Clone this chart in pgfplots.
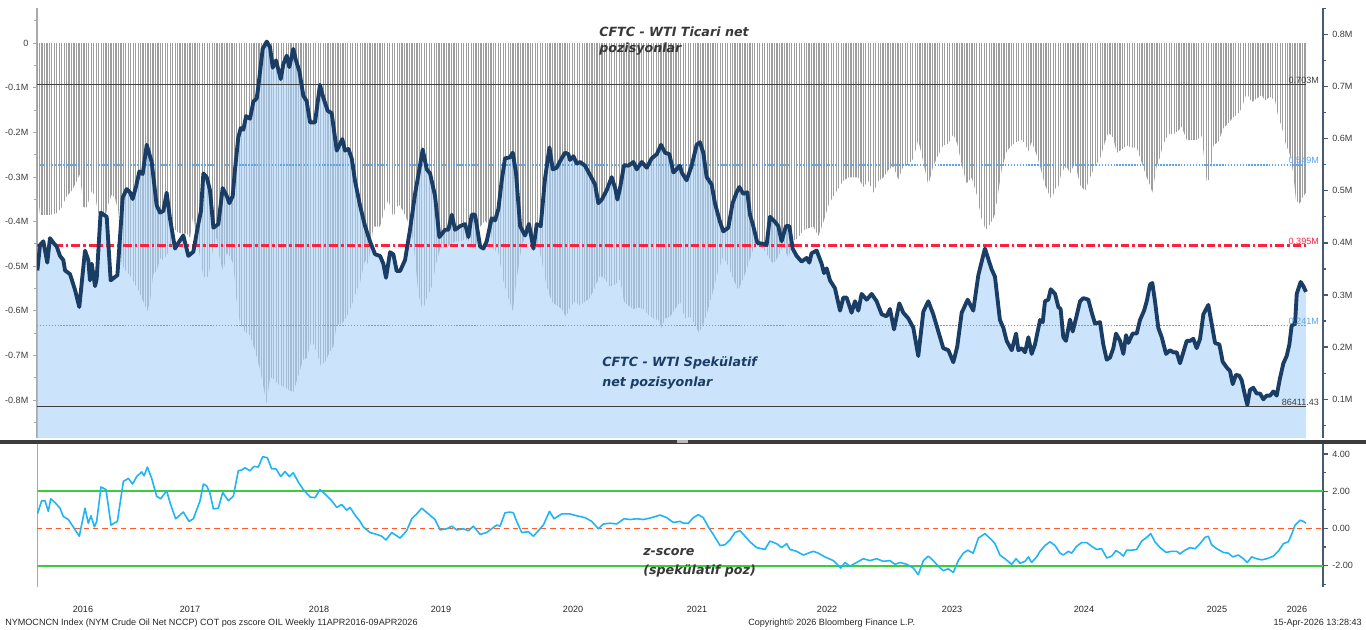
\documentclass[border=0pt]{standalone}
\usepackage{fontspec}
\setmainfont{Liberation Sans}
\newfontfamily\dvs{DejaVu Sans}[BoldItalicFont={DejaVu Sans Bold Oblique}]
\usepackage{pgfplots}
\usepackage{pgfplotstable}
\pgfplotsset{compat=1.18}
\usetikzlibrary{patterns.meta}
\definecolor{fillblue}{RGB}{170,210,248}
\definecolor{bargray}{RGB}{158,158,158}
\definecolor{specline}{RGB}{26,61,102}
\definecolor{zline}{RGB}{32,180,245}
\definecolor{zred}{RGB}{255,90,40}
\definecolor{redline}{RGB}{255,32,64}
\definecolor{dotblue}{RGB}{90,165,240}
\definecolor{linegray}{RGB}{64,64,64}
\definecolor{axgray}{RGB}{170,170,170}
\definecolor{raxis}{RGB}{70,90,115}
\definecolor{lbl}{RGB}{60,60,60}
\definecolor{sepgray}{RGB}{60,60,60}

\pgfplotstableread{
x y
2016.279 -0.331
2016.300 -0.385
2016.339 -0.385
2016.378 -0.385
2016.431 -0.381
2016.470 -0.368
2016.510 -0.343
2016.549 -0.331
2016.588 -0.309
2016.615 -0.293
2016.641 -0.368
2016.667 -0.368
2016.707 -0.331
2016.733 -0.343
2016.759 -0.381
2016.785 -0.385
2016.812 -0.390
2016.838 -0.360
2016.864 -0.339
2016.890 -0.347
2016.917 -0.377
2016.943 -0.495
2016.969 -0.508
2017.008 -0.520
2017.048 -0.541
2017.082 -0.558
2017.113 -0.579
2017.145 -0.600
2017.166 -0.579
2017.192 -0.516
2017.218 -0.512
2017.245 -0.482
2017.271 -0.487
2017.297 -0.474
2017.323 -0.465
2017.350 -0.411
2017.376 -0.423
2017.415 -0.427
2017.455 -0.427
2017.481 -0.436
2017.507 -0.383
2017.533 -0.444
2017.560 -0.478
2017.586 -0.524
2017.625 -0.524
2017.665 -0.457
2017.691 -0.436
2017.717 -0.487
2017.743 -0.512
2017.770 -0.470
2017.796 -0.478
2017.822 -0.495
2017.848 -0.579
2017.875 -0.630
2017.914 -0.647
2017.953 -0.655
2017.993 -0.689
2018.032 -0.731
2018.058 -0.769
2018.085 -0.807
2018.111 -0.748
2018.137 -0.752
2018.176 -0.765
2018.216 -0.769
2018.255 -0.777
2018.294 -0.782
2018.334 -0.748
2018.368 -0.710
2018.399 -0.706
2018.439 -0.664
2018.478 -0.693
2018.510 -0.723
2018.544 -0.714
2018.583 -0.693
2018.609 -0.680
2018.636 -0.630
2018.675 -0.630
2018.714 -0.613
2018.754 -0.588
2018.793 -0.554
2018.819 -0.537
2018.859 -0.487
2018.885 -0.495
2018.925 -0.411
2018.977 -0.411
2019.017 -0.368
2019.043 -0.352
2019.082 -0.390
2019.122 -0.360
2019.161 -0.377
2019.200 -0.402
2019.240 -0.444
2019.279 -0.562
2019.313 -0.600
2019.345 -0.571
2019.384 -0.546
2019.418 -0.495
2019.450 -0.461
2019.489 -0.457
2019.528 -0.453
2019.568 -0.444
2019.607 -0.444
2019.647 -0.440
2019.686 -0.444
2019.725 -0.465
2019.765 -0.411
2019.804 -0.398
2019.843 -0.411
2019.870 -0.461
2019.909 -0.470
2019.948 -0.533
2019.988 -0.571
2020.022 -0.600
2020.053 -0.529
2020.093 -0.453
2020.132 -0.427
2020.171 -0.427
2020.211 -0.444
2020.250 -0.487
2020.290 -0.546
2020.329 -0.579
2020.368 -0.588
2020.408 -0.596
2020.442 -0.613
2020.473 -0.592
2020.513 -0.579
2020.552 -0.588
2020.591 -0.579
2020.631 -0.571
2020.670 -0.546
2020.710 -0.520
2020.749 -0.529
2020.788 -0.546
2020.828 -0.541
2020.867 -0.529
2020.898 -0.579
2020.933 -0.588
2020.972 -0.596
2021.011 -0.592
2021.051 -0.596
2021.090 -0.609
2021.129 -0.617
2021.169 -0.621
2021.195 -0.638
2021.221 -0.617
2021.261 -0.613
2021.300 -0.596
2021.339 -0.579
2021.378 -0.617
2021.417 -0.613
2021.457 -0.630
2021.491 -0.651
2021.522 -0.630
2021.562 -0.596
2021.601 -0.554
2021.641 -0.508
2021.680 -0.478
2021.719 -0.499
2021.759 -0.529
2021.798 -0.554
2021.837 -0.529
2021.877 -0.495
2021.916 -0.461
2021.956 -0.453
2021.995 -0.461
2022.034 -0.478
2022.074 -0.495
2022.113 -0.478
2022.152 -0.453
2022.192 -0.482
2022.231 -0.444
2022.270 -0.436
2022.310 -0.419
2022.349 -0.415
2022.389 -0.411
2022.428 -0.432
2022.467 -0.402
2022.507 -0.364
2022.546 -0.343
2022.585 -0.326
2022.625 -0.308
2022.664 -0.301
2022.704 -0.301
2022.743 -0.301
2022.782 -0.322
2022.822 -0.309
2022.861 -0.335
2022.900 -0.309
2022.940 -0.301
2022.979 -0.284
2023.019 -0.276
2023.058 -0.305
2023.097 -0.276
2023.137 -0.272
2023.176 -0.259
2023.215 -0.217
2023.255 -0.267
2023.294 -0.318
2023.333 -0.276
2023.373 -0.250
2023.412 -0.229
2023.452 -0.225
2023.491 -0.204
2023.522 -0.225
2023.557 -0.272
2023.596 -0.314
2023.635 -0.301
2023.675 -0.339
2023.714 -0.394
2023.748 -0.419
2023.780 -0.406
2023.819 -0.385
2023.858 -0.309
2023.872 -0.284
2023.911 -0.242
2023.951 -0.229
2023.990 -0.221
2024.029 -0.217
2024.056 -0.225
2024.082 -0.242
2024.108 -0.221
2024.147 -0.250
2024.174 -0.276
2024.213 -0.318
2024.239 -0.335
2024.266 -0.352
2024.292 -0.326
2024.318 -0.322
2024.344 -0.288
2024.384 -0.276
2024.410 -0.293
2024.449 -0.267
2024.489 -0.318
2024.528 -0.331
2024.567 -0.301
2024.607 -0.276
2024.646 -0.259
2024.686 -0.221
2024.712 -0.200
2024.751 -0.212
2024.777 -0.246
2024.817 -0.238
2024.856 -0.229
2024.896 -0.234
2024.935 -0.234
2024.974 -0.267
2025.014 -0.301
2025.040 -0.318
2025.058 -0.335
2025.092 -0.276
2025.119 -0.255
2025.145 -0.225
2025.184 -0.204
2025.224 -0.204
2025.263 -0.196
2025.289 -0.187
2025.329 -0.217
2025.368 -0.217
2025.407 -0.217
2025.447 -0.208
2025.486 -0.309
2025.512 -0.305
2025.539 -0.229
2025.578 -0.221
2025.617 -0.191
2025.657 -0.179
2025.696 -0.166
2025.735 -0.158
2025.762 -0.145
2025.801 -0.111
2025.840 -0.132
2025.880 -0.124
2025.919 -0.116
2025.945 -0.128
2025.985 -0.120
2026.024 -0.128
2026.050 -0.166
2026.077 -0.187
2026.103 -0.221
2026.142 -0.250
2026.168 -0.293
2026.189 -0.352
2026.221 -0.360
2026.247 -0.343
2026.268 -0.335
}\comdata

\pgfplotstableread{
x y
2016.279 0.347
2016.300 0.396
2016.326 0.403
2016.357 0.362
2016.378 0.409
2016.405 0.400
2016.431 0.393
2016.457 0.375
2016.483 0.367
2016.497 0.347
2016.536 0.340
2016.575 0.310
2016.609 0.277
2016.654 0.385
2016.680 0.367
2016.693 0.328
2016.707 0.360
2016.733 0.317
2016.746 0.331
2016.777 0.458
2016.825 0.450
2016.856 0.328
2016.909 0.338
2016.951 0.487
2016.982 0.503
2017.008 0.497
2017.029 0.484
2017.056 0.508
2017.082 0.537
2017.108 0.532
2017.140 0.588
2017.179 0.555
2017.218 0.472
2017.245 0.458
2017.271 0.461
2017.297 0.496
2017.323 0.447
2017.363 0.389
2017.389 0.400
2017.428 0.414
2017.468 0.375
2017.507 0.383
2017.546 0.436
2017.567 0.461
2017.586 0.533
2017.612 0.526
2017.638 0.501
2017.665 0.429
2017.704 0.436
2017.738 0.505
2017.770 0.490
2017.791 0.476
2017.817 0.490
2017.835 0.541
2017.861 0.602
2017.880 0.620
2017.901 0.617
2017.922 0.643
2017.953 0.638
2017.980 0.671
2018.006 0.677
2018.019 0.700
2018.053 0.772
2018.085 0.786
2018.111 0.775
2018.132 0.736
2018.158 0.750
2018.195 0.714
2018.216 0.743
2018.242 0.759
2018.263 0.737
2018.294 0.772
2018.315 0.750
2018.342 0.729
2018.373 0.682
2018.399 0.672
2018.426 0.631
2018.465 0.631
2018.504 0.703
2018.531 0.678
2018.565 0.653
2018.596 0.649
2018.636 0.577
2018.680 0.599
2018.701 0.577
2018.728 0.580
2018.754 0.562
2018.780 0.519
2018.819 0.472
2018.859 0.432
2018.898 0.403
2018.938 0.378
2018.977 0.375
2019.003 0.360
2019.024 0.333
2019.056 0.382
2019.082 0.378
2019.108 0.346
2019.135 0.346
2019.174 0.367
2019.213 0.425
2019.253 0.494
2019.279 0.530
2019.313 0.579
2019.345 0.541
2019.371 0.533
2019.410 0.490
2019.444 0.411
2019.489 0.425
2019.515 0.425
2019.542 0.454
2019.568 0.425
2019.607 0.432
2019.647 0.436
2019.673 0.411
2019.699 0.454
2019.725 0.454
2019.765 0.393
2019.791 0.389
2019.817 0.403
2019.856 0.447
2019.883 0.443
2019.909 0.465
2019.935 0.519
2019.961 0.562
2020.001 0.564
2020.022 0.573
2020.048 0.533
2020.080 0.432
2020.119 0.414
2020.150 0.436
2020.185 0.389
2020.211 0.436
2020.242 0.432
2020.276 0.523
2020.311 0.583
2020.337 0.541
2020.368 0.544
2020.400 0.559
2020.434 0.573
2020.460 0.570
2020.473 0.559
2020.500 0.566
2020.526 0.552
2020.552 0.555
2020.591 0.548
2020.631 0.530
2020.670 0.512
2020.696 0.476
2020.723 0.483
2020.762 0.501
2020.801 0.526
2020.828 0.505
2020.846 0.483
2020.867 0.505
2020.898 0.549
2020.933 0.548
2020.972 0.555
2020.998 0.541
2021.038 0.555
2021.077 0.544
2021.116 0.562
2021.156 0.570
2021.190 0.588
2021.221 0.573
2021.255 0.570
2021.287 0.535
2021.339 0.548
2021.352 0.535
2021.391 0.520
2021.431 0.548
2021.470 0.588
2021.496 0.593
2021.522 0.573
2021.549 0.526
2021.588 0.512
2021.614 0.476
2021.654 0.440
2021.680 0.422
2021.719 0.429
2021.753 0.476
2021.785 0.497
2021.806 0.507
2021.837 0.494
2021.869 0.497
2021.890 0.454
2021.916 0.432
2021.948 0.400
2021.995 0.398
2022.021 0.396
2022.047 0.450
2022.087 0.440
2022.113 0.432
2022.139 0.403
2022.173 0.432
2022.200 0.432
2022.226 0.389
2022.257 0.375
2022.297 0.364
2022.336 0.371
2022.357 0.362
2022.375 0.380
2022.415 0.385
2022.454 0.360
2022.473 0.342
2022.494 0.351
2022.520 0.328
2022.559 0.313
2022.599 0.270
2022.625 0.295
2022.651 0.295
2022.690 0.266
2022.717 0.288
2022.743 0.270
2022.769 0.302
2022.809 0.291
2022.848 0.302
2022.887 0.288
2022.927 0.263
2022.966 0.259
2022.992 0.273
2023.024 0.234
2023.066 0.284
2023.097 0.266
2023.137 0.255
2023.176 0.237
2023.215 0.183
2023.255 0.268
2023.294 0.288
2023.333 0.263
2023.373 0.230
2023.412 0.198
2023.452 0.194
2023.491 0.171
2023.522 0.201
2023.557 0.266
2023.604 0.291
2023.648 0.270
2023.688 0.338
2023.740 0.389
2023.793 0.349
2023.819 0.335
2023.858 0.252
2023.885 0.237
2023.911 0.212
2023.951 0.194
2023.985 0.226
2024.003 0.194
2024.029 0.198
2024.056 0.190
2024.082 0.219
2024.108 0.187
2024.134 0.205
2024.174 0.252
2024.195 0.248
2024.213 0.288
2024.239 0.291
2024.258 0.311
2024.292 0.302
2024.318 0.277
2024.336 0.273
2024.357 0.219
2024.378 0.212
2024.410 0.253
2024.431 0.230
2024.457 0.255
2024.489 0.288
2024.515 0.294
2024.554 0.291
2024.581 0.266
2024.607 0.245
2024.646 0.248
2024.672 0.205
2024.699 0.176
2024.725 0.180
2024.751 0.198
2024.772 0.226
2024.804 0.212
2024.830 0.187
2024.851 0.223
2024.869 0.208
2024.903 0.226
2024.935 0.226
2024.961 0.252
2024.993 0.270
2025.014 0.288
2025.040 0.320
2025.058 0.323
2025.079 0.288
2025.105 0.237
2025.132 0.219
2025.166 0.187
2025.197 0.194
2025.224 0.190
2025.250 0.190
2025.276 0.169
2025.302 0.190
2025.329 0.212
2025.355 0.212
2025.381 0.216
2025.407 0.198
2025.434 0.216
2025.460 0.263
2025.499 0.281
2025.525 0.245
2025.552 0.208
2025.586 0.205
2025.612 0.172
2025.644 0.161
2025.670 0.154
2025.691 0.129
2025.717 0.147
2025.743 0.145
2025.762 0.136
2025.788 0.107
2025.806 0.089
2025.827 0.118
2025.853 0.122
2025.880 0.111
2025.906 0.111
2025.932 0.100
2025.958 0.107
2025.985 0.107
2026.011 0.115
2026.037 0.107
2026.063 0.140
2026.090 0.169
2026.116 0.183
2026.137 0.205
2026.155 0.241
2026.182 0.245
2026.195 0.302
2026.226 0.325
2026.247 0.317
2026.268 0.306
}\specdata

\pgfplotstableread{
x y
2016.279 0.78
2016.313 1.49
2016.339 1.49
2016.365 0.92
2016.384 1.59
2016.418 1.39
2016.457 1.09
2016.483 0.64
2016.523 0.48
2016.562 0.08
2016.609 -0.42
2016.654 1.09
2016.680 0.28
2016.701 0.68
2016.728 0.08
2016.746 0.38
2016.780 2.23
2016.819 2.09
2016.859 0.18
2016.909 0.38
2016.956 2.53
2016.995 2.69
2017.029 2.39
2017.061 2.79
2017.100 3.04
2017.119 2.83
2017.145 3.30
2017.179 2.69
2017.218 1.73
2017.250 1.59
2017.297 2.03
2017.323 1.39
2017.368 0.52
2017.428 0.88
2017.473 0.38
2017.507 0.52
2017.560 1.49
2017.586 2.39
2017.612 2.29
2017.638 1.89
2017.665 1.05
2017.704 1.09
2017.738 1.93
2017.783 1.49
2017.822 1.73
2017.861 3.10
2017.888 3.14
2017.914 3.26
2017.953 3.10
2017.985 3.34
2018.019 3.30
2018.053 3.86
2018.090 3.80
2018.124 3.20
2018.158 3.20
2018.195 2.79
2018.229 3.06
2018.263 2.79
2018.294 2.99
2018.334 2.49
2018.373 2.09
2018.426 1.69
2018.465 1.65
2018.504 2.09
2018.544 1.85
2018.596 1.49
2018.636 1.13
2018.675 1.29
2018.714 0.98
2018.741 1.13
2018.780 0.72
2018.819 0.38
2018.846 0.08
2018.898 -0.22
2018.951 -0.32
2018.990 -0.42
2019.024 -0.62
2019.069 -0.22
2019.135 -0.52
2019.187 -0.12
2019.227 0.52
2019.266 0.78
2019.305 1.09
2019.358 0.78
2019.410 0.48
2019.450 -0.08
2019.502 -0.02
2019.542 0.12
2019.581 -0.08
2019.633 -0.02
2019.673 -0.12
2019.712 0.12
2019.765 -0.32
2019.817 -0.22
2019.856 -0.02
2019.896 0.18
2019.922 0.12
2019.961 0.84
2020.001 0.88
2020.027 0.84
2020.053 0.38
2020.093 -0.22
2020.145 -0.18
2020.185 -0.42
2020.224 -0.12
2020.263 0.18
2020.311 0.92
2020.347 0.52
2020.408 0.78
2020.473 0.78
2020.526 0.68
2020.591 0.58
2020.644 0.38
2020.696 -0.02
2020.736 0.24
2020.788 0.28
2020.841 0.24
2020.898 0.52
2020.946 0.48
2020.998 0.52
2021.051 0.48
2021.116 0.58
2021.182 0.72
2021.234 0.58
2021.287 0.32
2021.339 0.38
2021.365 0.28
2021.404 0.28
2021.444 0.58
2021.483 0.74
2021.522 0.58
2021.562 0.08
2021.601 -0.32
2021.654 -0.92
2021.693 -0.88
2021.732 -0.62
2021.772 -0.22
2021.811 -0.12
2021.851 -0.42
2021.890 -0.72
2021.942 -1.03
2022.008 -1.13
2022.047 -0.68
2022.100 -0.82
2022.139 -1.03
2022.179 -0.82
2022.205 -1.13
2022.257 -1.23
2022.310 -1.43
2022.349 -1.33
2022.389 -1.23
2022.428 -1.33
2022.480 -1.53
2022.546 -1.73
2022.604 -2.13
2022.638 -1.83
2022.677 -2.03
2022.730 -1.83
2022.782 -1.63
2022.835 -1.73
2022.887 -1.63
2022.940 -1.77
2022.992 -1.73
2023.032 -1.93
2023.071 -1.83
2023.124 -1.93
2023.176 -2.13
2023.215 -2.49
2023.255 -1.73
2023.294 -1.49
2023.333 -1.73
2023.373 -2.03
2023.412 -2.27
2023.452 -2.17
2023.491 -2.37
2023.530 -1.73
2023.570 -1.33
2023.604 -1.17
2023.648 -1.33
2023.688 -0.52
2023.740 -0.28
2023.793 -0.62
2023.819 -0.82
2023.858 -1.43
2023.898 -1.63
2023.951 -1.93
2023.985 -1.63
2024.016 -1.87
2024.056 -1.77
2024.082 -1.53
2024.108 -1.83
2024.147 -1.53
2024.174 -1.23
2024.213 -0.92
2024.252 -0.72
2024.292 -0.92
2024.331 -1.33
2024.357 -1.43
2024.397 -1.23
2024.423 -1.33
2024.462 -0.96
2024.502 -0.76
2024.541 -0.76
2024.581 -0.96
2024.620 -1.13
2024.659 -1.09
2024.699 -1.59
2024.738 -1.49
2024.772 -1.19
2024.804 -1.33
2024.830 -1.49
2024.856 -1.17
2024.896 -1.17
2024.935 -1.13
2024.974 -0.68
2025.014 -0.48
2025.045 -0.28
2025.079 -0.72
2025.119 -1.03
2025.166 -1.29
2025.210 -1.23
2025.250 -1.23
2025.276 -1.37
2025.315 -1.17
2025.355 -1.03
2025.394 -1.09
2025.434 -0.82
2025.473 -0.48
2025.499 -0.42
2025.525 -0.88
2025.565 -1.09
2025.617 -1.29
2025.657 -1.33
2025.691 -1.53
2025.735 -1.43
2025.775 -1.63
2025.806 -1.83
2025.840 -1.53
2025.880 -1.63
2025.919 -1.69
2025.958 -1.63
2026.011 -1.49
2026.050 -1.23
2026.090 -0.82
2026.129 -0.72
2026.155 -0.32
2026.182 0.18
2026.221 0.44
2026.247 0.38
2026.268 0.28
}\zdata

\begin{document}
\begin{tikzpicture}
\useasboundingbox (0,0) rectangle (1024.5pt,471.75pt);

% ---- bottom panel: z-score ----
\begin{axis}[
  at={(27.75pt,31.5pt)}, anchor=south west,
  scale only axis, width=964.5pt, height=107.25pt,
  xmin=2016.276, xmax=2026.402, ymin=-3.15, ymax=4.54,
  axis x line*=bottom, axis y line*=right,
  x axis line style={draw=none},
  y axis line style={draw=raxis, line width=0.9pt},
  xtick={2016.638,2017.481,2018.497,2019.457,2020.497,2021.473,2022.497,2023.481,2024.520,2025.567,2026.197},
  xticklabels={2016,2017,2018,2019,2020,2021,2022,2023,2024,2025,2026},
  xtick style={draw=none},
  xticklabel style={font=\fontsize{6.8}{7}\selectfont, text=black!85, yshift=-7pt},
  ytick={-2,0,2,4},
  yticklabels={-2.00,0.00,2.00,4.00},
  minor ytick={-3,-1,1,3},
  tick align=outside, major tick length=3.5pt, minor tick length=2.5pt,
  ytick style={draw=raxis, line width=1pt},
  yticklabel style={font=\fontsize{6.8}{7}\selectfont, text=lbl},
]
\draw[axgray, line width=0.8pt] (rel axis cs:0,0) -- (rel axis cs:0,1);
\addplot[draw={rgb,255:red,60;green,205;blue,60}, line width=1.5pt] coordinates {(2016.276,2.0) (2026.402,2.0)};
\addplot[draw={rgb,255:red,60;green,205;blue,60}, line width=1.5pt] coordinates {(2016.276,-2.0) (2026.402,-2.0)};
\addplot[color=zred, line width=1.1pt, dash pattern=on 4pt off 3pt] coordinates {(2016.276,0) (2026.402,0)};
\addplot[color=zline, line width=1.2pt, line join=round] table[x=x,y=y] {\zdata};
\end{axis}

% ---- top panel, left axis: commercial net (bars) ----
\begin{axis}[
  at={(27.75pt,143.25pt)}, anchor=south west,
  scale only axis, width=964.5pt, height=322.5pt,
  xmin=2016.276, xmax=2026.402, ymin=-0.885, ymax=0.079,
  axis x line=none, axis y line*=left,
  y axis line style={draw=axgray, line width=0.8pt},
  ytick={-0.8,-0.7,-0.6,-0.5,-0.4,-0.3,-0.2,-0.1,0},
  yticklabels={-0.8M,-0.7M,-0.6M,-0.5M,-0.4M,-0.3M,-0.2M,-0.1M,0},
  minor ytick={-0.85,-0.75,-0.65,-0.55,-0.45,-0.35,-0.25,-0.15,-0.05,0.05},
  tick align=outside, major tick length=3pt, minor tick length=2pt,
  ytick style={draw=axgray, line width=0.8pt},
  yticklabel style={font=\fontsize{6.8}{7}\selectfont, text=lbl},
]
\addplot[draw=none, pattern={Lines[angle=90,distance=1.85pt,line width=0.95pt]}, pattern color=bargray] table[x=x,y=y] {\comdata} \closedcycle;
\end{axis}

% ---- top panel, right axis: speculative net ----
\begin{axis}[
  at={(27.75pt,143.25pt)}, anchor=south west,
  scale only axis, width=964.5pt, height=322.5pt,
  xmin=2016.276, xmax=2026.402, ymin=0.0257, ymax=0.8504,
  axis x line=none, axis y line*=right,
  y axis line style={draw=raxis, line width=0.9pt},
  ytick={0.1,0.2,0.3,0.4,0.5,0.6,0.7,0.8},
  yticklabels={0.1M,0.2M,0.3M,0.4M,0.5M,0.6M,0.7M,0.8M},
  minor ytick={0.05,0.15,0.25,0.35,0.45,0.55,0.65,0.75,0.85},
  tick align=outside, major tick length=3.5pt, minor tick length=2.5pt,
  ytick style={draw=raxis, line width=1pt},
  yticklabel style={font=\fontsize{6.8}{7}\selectfont, text=lbl},
]
\addplot[draw=none, fill=fillblue, fill opacity=0.6] table[x=x,y=y] {\specdata} \closedcycle;
\addplot[color=linegray, line width=0.75pt] coordinates {(2016.276,0.703) (2026.268,0.703)};
\addplot[color=dotblue, line width=1.1pt, dash pattern=on 1.1pt off 1.1pt] coordinates {(2016.276,0.549) (2026.268,0.549)};
\addplot[color=dotblue, line width=1.1pt, dash pattern=on 1.1pt off 1.1pt] coordinates {(2016.276,0.241) (2026.268,0.241)};
\addplot[color=linegray, line width=0.75pt] coordinates {(2016.276,0.0864) (2026.268,0.0864)};
\addplot[color=redline, line width=1.6pt, dash pattern=on 6.5pt off 2.2pt on 2pt off 2.2pt] coordinates {(2016.276,0.395) (2026.268,0.395)};
\addplot[color=specline, line width=2.9pt, line join=round] table[x=x,y=y] {\specdata};
\node[anchor=south east, inner sep=0.6pt, font=\fontsize{6.8}{7}\selectfont, text=linegray] at (axis cs:2026.378,0.703) {0.703M};
\node[anchor=south east, inner sep=0.6pt, font=\fontsize{6.8}{7}\selectfont, text=dotblue] at (axis cs:2026.378,0.549) {0.549M};
\node[anchor=south east, inner sep=0.6pt, font=\fontsize{6.8}{7}\selectfont, text=redline] at (axis cs:2026.378,0.395) {0.395M};
\node[anchor=south east, inner sep=0.6pt, font=\fontsize{6.8}{7}\selectfont, text=dotblue] at (axis cs:2026.378,0.241) {0.241M};
\node[anchor=south east, inner sep=0.6pt, font=\fontsize{6.8}{7}\selectfont, text=linegray] at (axis cs:2026.378,0.0864) {86411.43};
\end{axis}

% separator between panels
\fill[sepgray] (0pt,139.1pt) rectangle (1024.5pt,141.9pt);
\fill[gray!55] (508pt,139.6pt) rectangle (516pt,141.4pt);

% annotations and footer (pixel coordinates, origin top-left)
\begin{scope}[shift={(0pt,471.75pt)}, x=0.75pt, y=-0.75pt]
\node[anchor=base west, inner sep=0pt, text=black!78, font=\dvs\bfseries\itshape\fontsize{9.5}{11}\selectfont] at (599,37) {CFTC - WTI Ticari net};
\node[anchor=base west, inner sep=0pt, text=black!78, font=\dvs\bfseries\itshape\fontsize{9.5}{11}\selectfont] at (599,53) {pozisyonlar};
\node[anchor=base west, inner sep=0pt, text=specline, font=\dvs\bfseries\itshape\fontsize{9.5}{11}\selectfont] at (602,366) {CFTC - WTI Spekülatif};
\node[anchor=base west, inner sep=0pt, text=specline, font=\dvs\bfseries\itshape\fontsize{9.5}{11}\selectfont] at (602,386) {net pozisyonlar};
\node[anchor=base west, inner sep=0pt, text=black!78, font=\dvs\bfseries\itshape\fontsize{9.5}{11}\selectfont] at (643,555) {z-score};
\node[anchor=base west, inner sep=0pt, text=black!78, font=\dvs\bfseries\itshape\fontsize{9.5}{11}\selectfont] at (643,574) {(spekülatif poz)};
\node[anchor=base west, inner sep=0pt, text=black!85, font=\fontsize{6.8}{8}\selectfont] at (5,625) {NYMOCNCN Index (NYM Crude Oil Net NCCP) COT pos zscore OIL Weekly 11APR2016-09APR2026};
\node[anchor=base west, inner sep=0pt, text=black!85, font=\fontsize{6.8}{8}\selectfont] at (748,625) {Copyright© 2026 Bloomberg Finance L.P.};
\node[anchor=base east, inner sep=0pt, text=black!85, font=\fontsize{6.8}{8}\selectfont] at (1362,625) {15-Apr-2026 13:28:43};
\end{scope}
\end{tikzpicture}
\end{document}
